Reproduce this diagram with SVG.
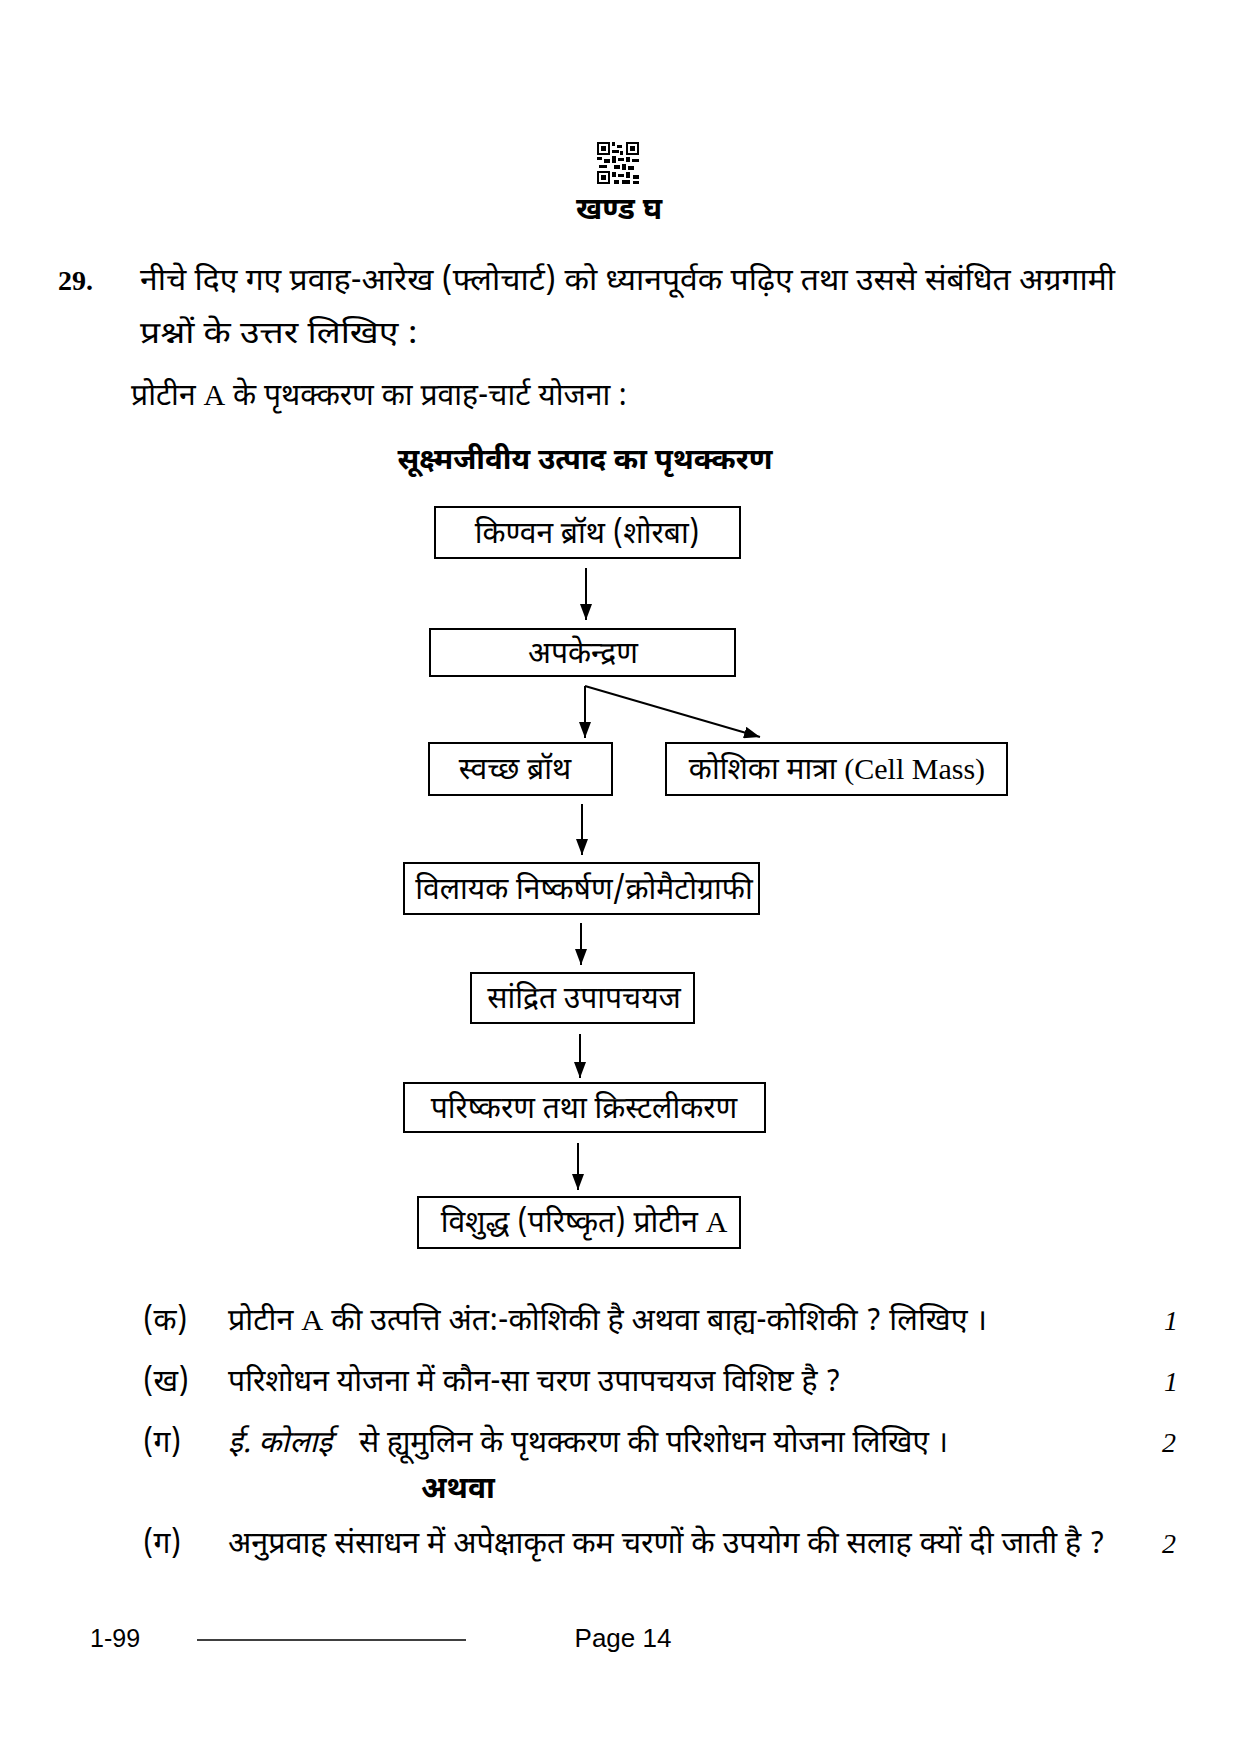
<svg xmlns="http://www.w3.org/2000/svg" width="1241" height="1755" viewBox="0 0 1241 1755">
<style>
.dv{font-family:"Noto Sans Devanagari","Noto Serif Devanagari","Lohit Devanagari","Mangal","FreeSerif","Noto Sans",sans-serif;fill:#000}
.body{font-size:30px}
.fc{font-size:30px}
.b{font-weight:bold}
.lat{font-family:"Liberation Serif",serif}
.box{fill:#fff;stroke:#000;stroke-width:2}
.ln{stroke:#000;stroke-width:2;fill:none}
.mk{font-family:"Liberation Serif",serif;font-style:italic;font-size:28px}
</style>
<defs>
<marker id="ah" viewBox="0 0 16 12" refX="16" refY="6" markerWidth="16" markerHeight="12" markerUnits="userSpaceOnUse" orient="auto">
<path d="M0,0 L16,6 L0,12 z" fill="#000"/>
</marker>
</defs>
<rect width="1241" height="1755" fill="#fff"/>

<g id="qr">
<rect x="597" y="142" width="42" height="42" fill="#fff"/>
<rect x="597" y="142" width="13" height="13" fill="#000"/><rect x="599" y="144" width="9" height="9" fill="#fff"/><rect x="601" y="146" width="5" height="5" fill="#000"/>
<rect x="626" y="142" width="13" height="13" fill="#000"/><rect x="628" y="144" width="9" height="9" fill="#fff"/><rect x="630" y="146" width="5" height="5" fill="#000"/>
<rect x="597" y="171" width="13" height="13" fill="#000"/><rect x="599" y="173" width="9" height="9" fill="#fff"/><rect x="601" y="175" width="5" height="5" fill="#000"/>
<rect x="612" y="142" width="3" height="4" fill="#000"/><rect x="617" y="145" width="5" height="3" fill="#000"/><rect x="612" y="150" width="7" height="3" fill="#000"/><rect x="620" y="151" width="3" height="4" fill="#000"/>
<rect x="597" y="157" width="5" height="3" fill="#000"/><rect x="604" y="159" width="6" height="4" fill="#000"/><rect x="612" y="156" width="4" height="7" fill="#000"/>
<rect x="618" y="158" width="6" height="3" fill="#000"/><rect x="626" y="157" width="4" height="5" fill="#000"/><rect x="632" y="159" width="7" height="3" fill="#000"/>
<rect x="599" y="165" width="8" height="3" fill="#000"/><rect x="614" y="165" width="6" height="4" fill="#000"/><rect x="622" y="164" width="4" height="6" fill="#000"/><rect x="628" y="166" width="6" height="4" fill="#000"/>
<rect x="612" y="172" width="4" height="5" fill="#000"/><rect x="618" y="174" width="6" height="3" fill="#000"/><rect x="626" y="172" width="4" height="6" fill="#000"/>
<rect x="633" y="175" width="6" height="4" fill="#000"/><rect x="614" y="180" width="5" height="4" fill="#000"/><rect x="622" y="180" width="8" height="4" fill="#000"/><rect x="633" y="181" width="6" height="3" fill="#000"/>
</g>

<g id="header">
<text class="dv b" x="619" y="219" font-size="30" text-anchor="middle">खण्ड घ</text>
<text x="58" y="290" font-family="Liberation Serif,serif" font-weight="bold" font-size="28">29.</text>
<text class="dv body" x="140" y="290" textLength="975" lengthAdjust="spacingAndGlyphs">नीचे दिए गए प्रवाह-आरेख (फ्लोचार्ट) को ध्यानपूर्वक पढ़िए तथा उससे संबंधित अग्रगामी</text>
<text class="dv body" x="140" y="343" textLength="278" lengthAdjust="spacingAndGlyphs">प्रश्नों के उत्तर लिखिए :</text>
<text class="dv body" x="131" y="405" textLength="496" lengthAdjust="spacingAndGlyphs">प्रोटीन <tspan class="lat">A</tspan> के पृथक्करण का प्रवाह-चार्ट योजना :</text>
<text class="dv b" x="585" y="469" font-size="29.5" text-anchor="middle">सूक्ष्मजीवीय उत्पाद का पृथक्करण</text>
</g>

<g id="connectors">
<line class="ln" x1="586" y1="568" x2="586" y2="620" marker-end="url(#ah)"/>
<line class="ln" x1="585" y1="686" x2="585" y2="738" marker-end="url(#ah)"/>
<line class="ln" x1="585" y1="686" x2="760" y2="737" marker-end="url(#ah)"/>
<line class="ln" x1="582" y1="804" x2="582" y2="855" marker-end="url(#ah)"/>
<line class="ln" x1="581" y1="923" x2="581" y2="965" marker-end="url(#ah)"/>
<line class="ln" x1="580" y1="1034" x2="580" y2="1078" marker-end="url(#ah)"/>
<line class="ln" x1="578" y1="1143" x2="578" y2="1190" marker-end="url(#ah)"/>
</g>

<g id="n1">
<rect class="box" x="435" y="507" width="305" height="51"/>
<text class="dv fc" x="587" y="543" text-anchor="middle">किण्वन ब्रॉथ (शोरबा)</text>
</g>
<g id="n2">
<rect class="box" x="430" y="629" width="305" height="47"/>
<text class="dv fc" x="583" y="663" text-anchor="middle">अपकेन्द्रण</text>
</g>
<g id="n3">
<rect class="box" x="429" y="743" width="183" height="52"/>
<text class="dv fc" x="515" y="779" text-anchor="middle">स्वच्छ ब्रॉथ</text>
</g>
<g id="n4">
<rect class="box" x="666" y="743" width="341" height="52"/>
<text class="dv fc" x="837" y="779" text-anchor="middle">कोशिका मात्रा <tspan class="lat">(Cell Mass)</tspan></text>
</g>
<g id="n5">
<rect class="box" x="404" y="863" width="355" height="51"/>
<text class="dv fc" x="584" y="899" text-anchor="middle">विलायक निष्कर्षण/क्रोमैटोग्राफी</text>
</g>
<g id="n6">
<rect class="box" x="471" y="973" width="223" height="50"/>
<text class="dv fc" x="584" y="1008" text-anchor="middle">सांद्रित उपापचयज</text>
</g>
<g id="n7">
<rect class="box" x="404" y="1083" width="361" height="49"/>
<text class="dv fc" x="584" y="1118" text-anchor="middle">परिष्करण तथा क्रिस्टलीकरण</text>
</g>
<g id="n8">
<rect class="box" x="418" y="1197" width="322" height="51"/>
<text class="dv fc" x="584" y="1232" text-anchor="middle">विशुद्ध (परिष्कृत) प्रोटीन <tspan class="lat">A</tspan></text>
</g>

<g id="questions">
<text class="dv body" x="143" y="1330">(क)</text>
<text class="dv body" x="228" y="1330" textLength="759" lengthAdjust="spacingAndGlyphs">प्रोटीन <tspan class="lat">A</tspan> की उत्पत्ति अंत:-कोशिकी है अथवा बाह्य-कोशिकी ? लिखिए ।</text>
<text class="mk" x="1164" y="1330">1</text>
<text class="dv body" x="143" y="1391">(ख)</text>
<text class="dv body" x="228" y="1391" textLength="613" lengthAdjust="spacingAndGlyphs">परिशोधन योजना में कौन-सा चरण उपापचयज विशिष्ट है ?</text>
<text class="mk" x="1164" y="1391">1</text>
<text class="dv body" x="143" y="1452">(ग)</text>
<text class="dv body" x="228" y="1452"><tspan font-style="italic">ई. कोलाई</tspan></text>
<text class="dv body" x="359" y="1452" textLength="589" lengthAdjust="spacingAndGlyphs">से ह्यूमुलिन के पृथक्करण की परिशोधन योजना लिखिए ।</text>
<text class="mk" x="1162" y="1452">2</text>
<text class="dv b" x="421" y="1498" font-size="30">अथवा</text>
<text class="dv body" x="143" y="1553">(ग)</text>
<text class="dv body" x="228" y="1553" textLength="877" lengthAdjust="spacingAndGlyphs">अनुप्रवाह संसाधन में अपेक्षाकृत कम चरणों के उपयोग की सलाह क्यों दी जाती है ?</text>
<text class="mk" x="1162" y="1553">2</text>
</g>

<g id="footer">
<text x="90" y="1647" font-family="Liberation Sans,Arial,sans-serif" font-size="25">1-99</text>
<line x1="197" y1="1640" x2="466" y2="1640" stroke="#000" stroke-width="1.5"/>
<text x="623" y="1647" font-family="Liberation Sans,Arial,sans-serif" font-size="26" text-anchor="middle">Page 14</text>
</g>
</svg>
